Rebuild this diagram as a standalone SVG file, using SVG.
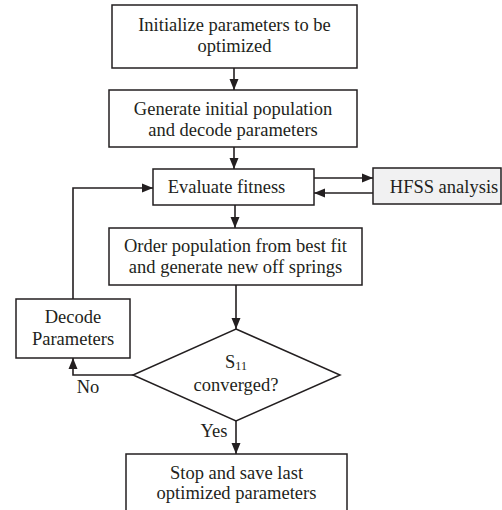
<svg xmlns="http://www.w3.org/2000/svg" width="502" height="510" viewBox="0 0 502 510">
<defs>
<marker id="ah" markerUnits="userSpaceOnUse" markerWidth="12" markerHeight="10" refX="11" refY="5" orient="auto">
<path d="M0,0.5 L11,5 L0,9.5 z" fill="#231f20"/>
</marker>
<style>
.box{fill:#fff;stroke:#231f20;stroke-width:1.5}
.grey{fill:#f1f1f2}
.t{font-family:"Liberation Serif","Times New Roman",serif;font-size:18.5px;fill:#231f20;text-anchor:middle}
.c{fill:none;stroke:#231f20;stroke-width:1.6;marker-end:url(#ah)}
</style>
</defs>
<rect width="502" height="510" fill="#fff"/>
<g id="connectors">
<line class="c" x1="234" y1="68" x2="234" y2="90"/>
<line class="c" x1="234" y1="147" x2="234" y2="169"/>
<line class="c" x1="314" y1="178" x2="373" y2="178"/>
<line class="c" x1="373" y1="193" x2="314" y2="193"/>
<line class="c" x1="235" y1="205" x2="235" y2="228"/>
<line class="c" x1="236" y1="285" x2="236" y2="329"/>
<path class="c" d="M133,375 H73 V358"/>
<path class="c" d="M73,299 V188 H153"/>
<line class="c" x1="236" y1="421" x2="236" y2="454"/>
</g>
<g id="init">
<rect class="box" x="112" y="5" width="245" height="63"/>
<text class="t" x="234.5" y="31">Initialize parameters to be</text>
<text class="t" x="234.5" y="52">optimized</text>
</g>
<g id="generate">
<rect class="box" x="109" y="90" width="248" height="57"/>
<text class="t" x="233" y="115">Generate initial population</text>
<text class="t" x="233" y="136">and decode parameters</text>
</g>
<g id="evaluate">
<rect class="box" x="153" y="169" width="161" height="36"/>
<text class="t" x="226.5" y="193">Evaluate fitness</text>
</g>
<g id="hfss">
<rect class="box grey" x="373" y="168" width="128" height="36"/>
<text class="t" x="444" y="193">HFSS analysis</text>
</g>
<g id="order">
<rect class="box" x="109" y="228" width="253" height="57"/>
<text class="t" x="235.5" y="252">Order population from best fit</text>
<text class="t" x="235.5" y="273">and generate new off springs</text>
</g>
<g id="decode">
<rect class="box" x="16" y="299" width="114" height="59"/>
<text class="t" x="73" y="323">Decode</text>
<text class="t" x="73" y="345">Parameters</text>
</g>
<g id="converged">
<polygon class="box" points="236,329 340,375 236,421 133,375"/>
<text class="t" x="236" y="368">S<tspan font-size="12" dy="2">11</tspan></text>
<text class="t" x="236" y="391">converged?</text>
</g>
<g id="stop">
<rect class="box" x="126" y="454" width="221" height="70"/>
<text class="t" x="236.5" y="479">Stop and save last</text>
<text class="t" x="236.5" y="499">optimized parameters</text>
</g>
<g id="labels">
<text class="t" x="88" y="393">No</text>
<text class="t" x="214" y="437">Yes</text>
</g>
</svg>
